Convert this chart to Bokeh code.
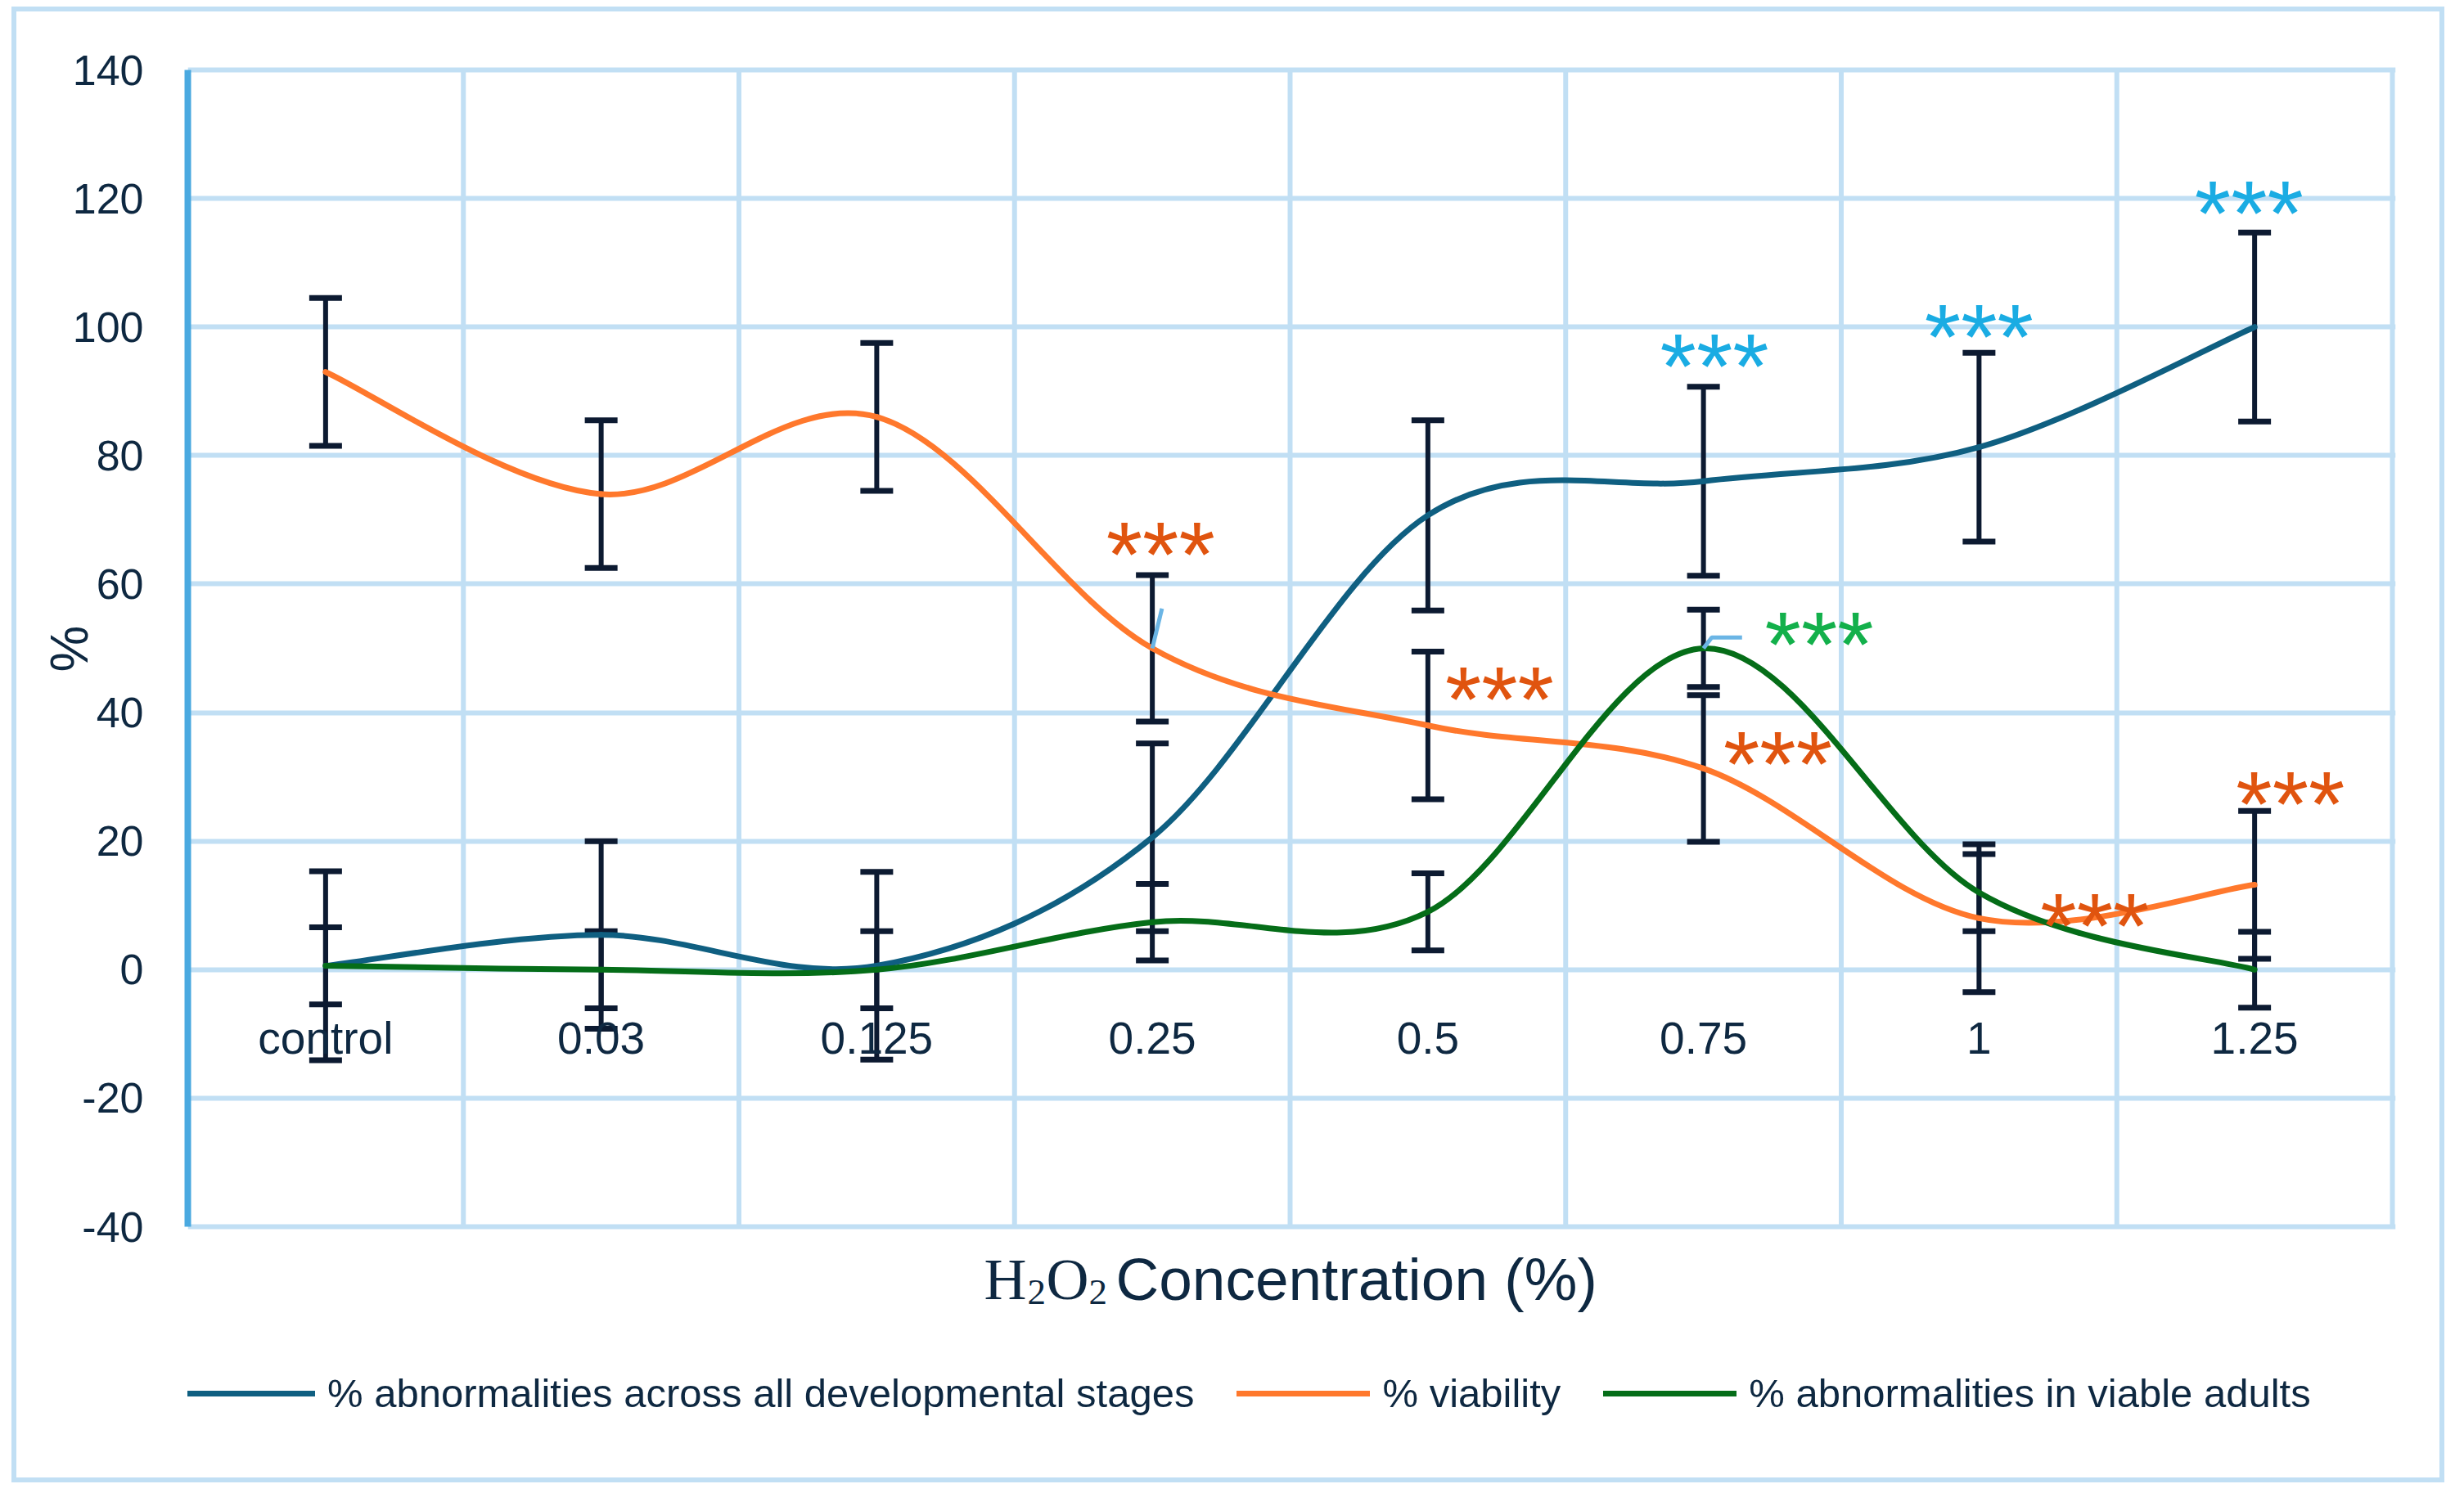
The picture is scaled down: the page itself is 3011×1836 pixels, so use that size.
from bokeh.plotting import figure
from bokeh.models import (ColumnDataSource, FixedTicker, Whisker, TeeHead, Legend,
                          LegendItem, Label, Title)
from bokeh.core.properties import value
from bokeh.embed import file_html
from bokeh.resources import INLINE

# ---------------- data ----------------
CATEGORIES = ["control", "0.03", "0.125", "0.25", "0.5", "0.75", "1", "1.25"]

ABN_ALL = [0.6, 5.4, 0.6, 20.6, 70.7, 76.0, 81.3, 100.0]
ABN_ALL_ERR = [14.7, 14.6, 14.6, 14.6, 14.8, 14.7, 14.7, 14.7]

VIABILITY = [93.0, 74.0, 86.0, 50.0, 38.0, 31.3, 8.0, 13.2]
VIABILITY_ERR = [11.5, 11.5, 11.5, 11.4, 11.5, 11.4, 11.5, 11.5]

ABN_ADULT = [0.6, 0.0, 0.0, 7.4, 9.0, 50.0, 12.0, 0.0]
ABN_ADULT_ERR = [6.0, 6.0, 6.0, 5.95, 6.0, 6.0, 6.0, 5.9]

Y_TICKS = [-40, -20, 0, 20, 40, 60, 80, 100, 120, 140]

SERIES_NAMES = ["% abnormalities across all developmental stages",
                "% viability",
                "% abnormalities in viable adults"]
Y_TITLE = "%"

# significance marks: (series, category index, dx in categories, label centre y)
STARS = [
    ("viab", 3, 0.03, 67.7),
    ("viab", 4, 0.26, 45.1),
    ("viab", 5, 0.27, 35.1),
    ("viab", 6, 0.42, 9.9),
    ("viab", 7, 0.13, 28.9),
    ("all", 5, 0.04, 97.0),
    ("all", 6, 0.0, 101.6),
    ("all", 7, -0.02, 120.8),
    ("adult", 5, 0.42, 53.7),
]

# ---------------- style ----------------
C_BLUE = "#0f5f81"
C_ORANGE = "#ff782c"
C_GREEN = "#056d18"
C_ERR = "#0c1a31"
C_TEXT = "#0e2841"
C_GRID = "#c1dff4"
C_AXIS = "#4aa9e0"
C_LEADER = "#6bb5e5"
STAR_COL = {"viab": "#e0540f", "all": "#1aace3", "adult": "#13b04b"}
FONT = "Liberation Sans"
SERIF = "Liberation Serif"

Y0, Y1 = -40, 140
NCAT = len(CATEGORIES)
AREA_W, AREA_H = 2694, 1414          # plotting area in px
PX_PER_UNIT = AREA_H / (Y1 - Y0)
PX_PER_CAT = AREA_W / NCAT
PAD = 4                               # room so edge grid lines are not clipped
EXTRA_BOTTOM = 264                    # room under the area for title + legend

XC = [i + 0.5 for i in range(NCAT)]

p = figure(x_range=(0, NCAT + PAD / PX_PER_CAT),
           y_range=(Y0 - EXTRA_BOTTOM / PX_PER_UNIT, Y1 + PAD / PX_PER_UNIT),
           frame_width=AREA_W + PAD, frame_height=AREA_H + PAD + EXTRA_BOTTOM,
           min_border_left=209, min_border_right=54,
           min_border_top=67, min_border_bottom=43,
           output_backend="svg", toolbar_location=None)
p.styles = {"border": "6px solid " + C_GRID, "margin-left": "14px",
            "margin-top": "8px"}
p.background_fill_color = "white"
p.border_fill_color = "white"
p.outline_line_color = None

# horizontal grid lines
p.ygrid.ticker = FixedTicker(ticks=Y_TICKS)
p.ygrid.grid_line_color = C_GRID
p.ygrid.grid_line_width = 6
p.xgrid.visible = False
# vertical grid lines at the category boundaries, limited to the plotting area
bounds = list(range(NCAT + 1))
p.segment(x0=bounds, x1=bounds, y0=[Y0] * len(bounds), y1=[Y1] * len(bounds),
          line_color=C_GRID, line_width=6, level="underlay")

# y axis
ya = p.yaxis[0]
ya.bounds = (Y0, Y1)
ya.ticker = FixedTicker(ticks=Y_TICKS)
ya.major_label_overrides = {t: str(t) for t in Y_TICKS}
ya.axis_line_color = C_AXIS
ya.axis_line_width = 8
ya.major_tick_line_color = None
ya.minor_tick_line_color = None
ya.major_label_standoff = 48
ya.major_label_text_font = FONT
ya.major_label_text_font_size = "52px"
ya.major_label_text_color = C_TEXT

# y axis title, placed beside the middle of the plotting area
yt = Title(text=Y_TITLE, align="right", offset=683, standoff=-70,
           text_font=FONT, text_font_size="64px",
           text_font_style="normal", text_color=C_TEXT)
p.add_layout(yt, "left")

# x axis (category labels sit just under the zero line)
xa = p.xaxis[0]
xa.ticker = FixedTicker(ticks=XC)
xa.major_label_overrides = {c: lab for c, lab in zip(XC, CATEGORIES)}
xa.axis_line_color = None
xa.major_tick_line_color = None
xa.minor_tick_line_color = None
xa.major_label_standoff = -268 - EXTRA_BOTTOM
xa.major_label_text_font = FONT
xa.major_label_text_font_size = "55px"
xa.major_label_text_color = C_TEXT


def smooth_segments(xs, ys):
    n = len(xs)
    d = dict(x0=[], y0=[], x1=[], y1=[], cx0=[], cy0=[], cx1=[], cy1=[])
    for i in range(n - 1):
        a = i - 1 if i > 0 else i
        b = i + 2 if i + 2 < n else i + 1
        d["x0"].append(xs[i]); d["y0"].append(ys[i])
        d["x1"].append(xs[i + 1]); d["y1"].append(ys[i + 1])
        d["cx0"].append(xs[i] + (xs[i + 1] - xs[a]) / 6.0)
        d["cy0"].append(ys[i] + (ys[i + 1] - ys[a]) / 6.0)
        d["cx1"].append(xs[i + 1] - (xs[b] - xs[i]) / 6.0)
        d["cy1"].append(ys[i + 1] - (ys[b] - ys[i]) / 6.0)
    return ColumnDataSource(d)


series = [(ABN_ALL, ABN_ALL_ERR, C_BLUE),
          (VIABILITY, VIABILITY_ERR, C_ORANGE),
          (ABN_ADULT, ABN_ADULT_ERR, C_GREEN)]

renderers = []
for vals, errs, col in series:
    src = smooth_segments(XC, vals)
    r = p.bezier(x0="x0", y0="y0", x1="x1", y1="y1", cx0="cx0", cy0="cy0",
                 cx1="cx1", cy1="cy1", source=src, line_color=col,
                 line_width=7, line_cap="round")
    renderers.append(r)

for vals, errs, col in series:
    esrc = ColumnDataSource(dict(x=XC,
                                 upper=[v + e for v, e in zip(vals, errs)],
                                 lower=[v - e for v, e in zip(vals, errs)]))
    w = Whisker(base="x", upper="upper", lower="lower", source=esrc,
                dimension="height", line_color=C_ERR, line_width=6,
                upper_head=TeeHead(size=40, line_color=C_ERR, line_width=7),
                lower_head=TeeHead(size=40, line_color=C_ERR, line_width=7))
    p.add_layout(w)

# leader lines of the data labels
i25 = CATEGORIES.index("0.25")
i75 = CATEGORIES.index("0.75")
p.line([XC[i25], XC[i25] + 0.035], [VIABILITY[i25], VIABILITY[i25] + 6.2],
       line_color=C_LEADER, line_width=5, level="overlay")
p.line([XC[i75], XC[i75] + 0.03, XC[i75] + 0.14],
       [ABN_ADULT[i75], ABN_ADULT[i75] + 1.7, ABN_ADULT[i75] + 1.7],
       line_color=C_LEADER, line_width=5, level="overlay")

# significance stars
STAR_SIZE = 114
star_raise = 24 / PX_PER_UNIT
sx = [XC[i] + dx for _, i, dx, _ in STARS]
sy = [y - star_raise for _, _, _, y in STARS]
scol = [STAR_COL[k] for k, _, _, _ in STARS]
p.text(x=sx, y=sy, text=["***"] * len(STARS), text_color=scol,
       text_font=value(FONT), text_font_size="%dpx" % STAR_SIZE,
       text_align="center", text_baseline="alphabetic", level="overlay")

# x axis title: H2O2 Concentration (%)
xmid = NCAT / 2.0
ybase = Y0 - 64 / PX_PER_UNIT
ysub = ybase - 16 / PX_PER_UNIT
for txt, off, yy, size, font in [("H", -374, ybase, "72px", SERIF),
                                 ("2", -321, ysub, "45px", SERIF),
                                 ("O", -298, ybase, "72px", SERIF),
                                 ("2", -246, ysub, "45px", SERIF),
                                 ("Concentration (%)", -213, ybase, "73px", FONT)]:
    p.add_layout(Label(x=xmid, y=yy, x_offset=off, text=txt,
                       text_font=font, text_font_size=size, text_color=C_TEXT,
                       text_align="left", text_baseline="alphabetic"))

legend = Legend(items=[LegendItem(label=n, renderers=[r])
                       for n, r in zip(SERIES_NAMES, renderers)],
                orientation="horizontal", location=(-7, 32),
                label_text_font=FONT, label_text_font_size="49px",
                label_text_color=C_TEXT, glyph_width=163, glyph_height=40,
                label_standoff=15, spacing=52, padding=0, margin=0,
                border_line_color=None, background_fill_alpha=0)
p.add_layout(legend)

open("out.html", "w").write(file_html(p, INLINE))
